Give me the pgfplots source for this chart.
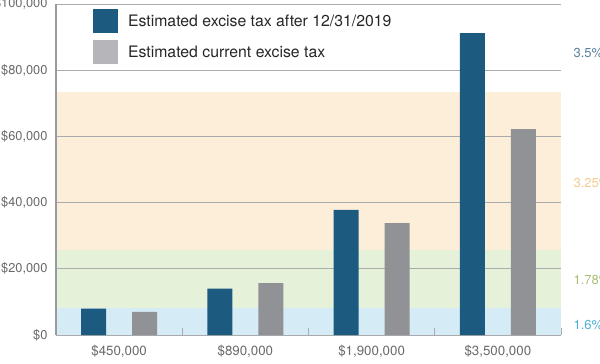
\documentclass[border=0pt]{standalone}
\usepackage{pgfplots}
\pgfplotsset{compat=1.18}
\usepackage{fontspec}
\setmainfont{TeX Gyre Heros}
\definecolor{darkblue}{HTML}{1D5A80}
\definecolor{bargray}{HTML}{919296}
\definecolor{leggray}{HTML}{B6B6BA}
\definecolor{bandblue}{HTML}{D5EBF5}
\definecolor{bandgreen}{HTML}{E6F1DA}
\definecolor{bandorange}{HTML}{FDEEDA}
\definecolor{labgray}{HTML}{6A6A6A}
\definecolor{gridgray}{HTML}{A9ABAD}
\definecolor{pctA}{HTML}{5A7F9A}
\definecolor{pctB}{HTML}{F2CB8E}
\definecolor{pctC}{HTML}{A8BE78}
\definecolor{pctD}{HTML}{4BAFD8}
\begin{document}
\begin{tikzpicture}
\begin{axis}[
  set layers,
  scale only axis,
  width=505bp, height=331bp,
  at={(0,0)}, anchor=south west,
  clip=false,
  xmin=-0.5, xmax=3.5, ymin=0, ymax=100000,
  axis x line*=bottom, axis y line*=left,
  x axis line style={draw=gridgray, line width=1bp},
  y axis line style={draw=gridgray!90!black, line width=1.8bp},
  xtick={0,1,2,3},
  xticklabels={{\$450,000},{\$890,000},{\$1,900,000},{\$3,500,000}},
  minor xtick={0.5,1.5,2.5,3.5},
  major tick length=0pt,
  minor tick length=7bp,
  tick align=inside,
  minor tick style={draw=gridgray, line width=0.8bp},
  ytick={0,20000,40000,60000,80000,100000},
  yticklabel={\$\pgfmathprintnumber{\tick}},
  /pgf/number format/.cd, fixed, 1000 sep={,}, assume math mode=true, /pgfplots/.cd,
  scaled y ticks=false,
  ytick style={draw=none},
  ymajorgrids,
  grid style={draw=gridgray, line width=0.8bp},
  xticklabel style={font=\fontsize{13.3bp}{15bp}\selectfont, text=labgray, yshift=-7bp},
  yticklabel style={font=\fontsize{12.8bp}{15bp}\selectfont, text=labgray, xshift=-5bp},
  legend style={at={(0.073,0.985)}, anchor=north west, draw=none, fill=none,
    font=\fontsize{15.8bp}{19bp}\selectfont, text=black!85, row sep=7bp,
    inner sep=0pt, column sep=8bp},
  legend cell align=left,
  legend image code/.code={\fill[#1] (0bp,-12bp) rectangle (25bp,12bp);},
]
\addplot[fill=bandorange, draw=none, on layer=axis background, forget plot]
  coordinates {(-0.5,73400) (3.5,73400)} \closedcycle;
\addplot[fill=bandgreen, draw=none, on layer=axis background, forget plot]
  coordinates {(-0.5,25700) (3.5,25700)} \closedcycle;
\addplot[fill=bandblue, draw=none, on layer=axis background, forget plot]
  coordinates {(-0.5,8200) (3.5,8200)} \closedcycle;

\addplot[ybar, bar width=25bp, bar shift=-25.5bp, fill=darkblue, draw=none]
  coordinates {(0,8000) (1,14000) (2,37800) (3,91200)};
\addlegendentry{Estimated excise tax after 12/31/2019}
\addplot[ybar, bar width=25bp, bar shift=25.5bp, fill=bargray, draw=none, forget plot]
  coordinates {(0,7000) (1,15700) (2,33800) (3,62200)};
\addlegendimage{fill=leggray, draw=none}
\addlegendentry{Estimated current excise tax}

\node[anchor=west, xshift=9bp, text=pctA, font=\fontsize{13bp}{15bp}\selectfont] at (axis cs:3.5,85200) {3.5\%};
\node[anchor=west, xshift=9bp, text=pctB, font=\fontsize{13bp}{15bp}\selectfont] at (axis cs:3.5,45900) {3.25\%};
\node[anchor=west, xshift=9bp, text=pctC, font=\fontsize{13bp}{15bp}\selectfont] at (axis cs:3.5,16600) {1.78\%};
\node[anchor=west, xshift=9bp, text=pctD, font=\fontsize{13bp}{15bp}\selectfont] at (axis cs:3.5,3000) {1.6\%};
\end{axis}
\pgfresetboundingbox
\path[use as bounding box] (-56bp,-29bp) rectangle (544bp,335bp);
\end{tikzpicture}
\end{document}
